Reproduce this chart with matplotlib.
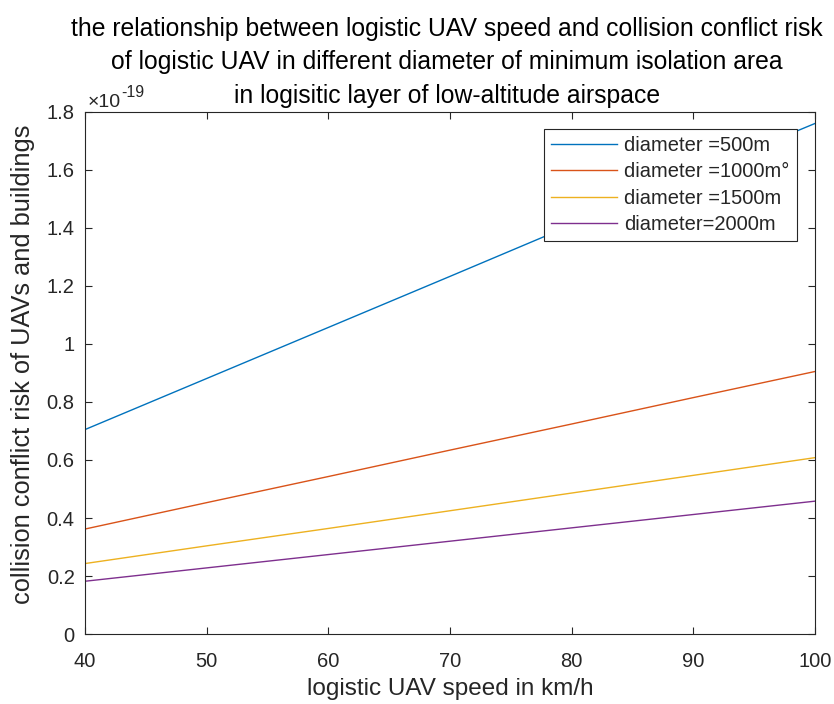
import numpy as np
import matplotlib.pyplot as plt
from matplotlib.ticker import FuncFormatter

# logistic UAV speed (km/h)
speed = [40, 50, 60, 70, 80, 90, 100]

# collision conflict risk, in units of 1e-19
risk_500 = [0.705, 0.881, 1.057, 1.233, 1.410, 1.586, 1.760]
risk_1000 = [0.362, 0.453, 0.543, 0.634, 0.724, 0.815, 0.905]
risk_1500 = [0.243, 0.304, 0.364, 0.425, 0.486, 0.547, 0.608]
risk_2000 = [0.182, 0.228, 0.274, 0.320, 0.366, 0.412, 0.458]

labels = ['diameter =500m', 'diameter =1000m°', 'diameter =1500m', 'diameter=2000m']
colors = ['#0072BD', '#D95319', '#EDB120', '#7E2F8E']

title_lines = ['the relationship between logistic UAV speed and collision conflict risk',
               'of logistic UAV in different diameter of minimum isolation area',
               'in logisitic layer of low-altitude airspace']

plt.rcParams['font.family'] = ['Liberation Sans', 'DejaVu Sans']
TXT = '#262626'

fig, ax = plt.subplots(figsize=(8.34, 7.04), dpi=100)
plt.subplots_adjust(left=0.102, right=0.977, bottom=0.0994, top=0.841)

for vals, lab, c in zip([risk_500, risk_1000, risk_1500, risk_2000], labels, colors):
    ax.plot(speed, vals, color=c, lw=1.0, label=lab)

ax.set_xlim(40, 100)
ax.set_ylim(0, 1.8)
ax.set_xticks(np.arange(40, 101, 10))
ax.set_yticks(np.arange(0, 1.81, 0.2))
ax.yaxis.set_major_formatter(FuncFormatter(lambda v, p: f'{v:g}'))
ax.tick_params(direction='in', length=5, width=0.8, top=True, right=True,
               labelsize=14.5, colors=TXT, labelcolor=TXT)
ax.tick_params(axis='x', pad=13)
ax.tick_params(axis='y', pad=7.5)
for sp in ax.spines.values():
    sp.set_color(TXT)
    sp.set_linewidth(0.8)

ax.set_xlabel('logistic UAV speed in km/h', fontsize=17.5, color=TXT, labelpad=5)
ax.set_ylabel('collision conflict risk of UAVs and buildings', fontsize=18.3, color=TXT)
ax.yaxis.set_label_coords(-0.068, 0.516)

# three-line title, one text per line
for i, line in enumerate(title_lines):
    fig.text(447 / 834, 1 - (36 + 33.5 * i) / 704, line, fontsize=17.8,
             color='black', ha='center', va='baseline')

# exponent of the y axis
ax.text(0.003, 1.009, '×10', transform=ax.transAxes, fontsize=14,
        color=TXT, ha='left', va='baseline')
ax.text(0.049, 1.029, '-19', transform=ax.transAxes, fontsize=11.5,
        color=TXT, ha='left', va='baseline')

leg = ax.legend(loc='upper right', bbox_to_anchor=(0.975, 0.967), fontsize=14.5,
                frameon=True, fancybox=False, framealpha=1, edgecolor=TXT,
                handlelength=3.3, handletextpad=0.35, borderpad=0.35,
                labelspacing=0.36, borderaxespad=0)
leg.get_frame().set_linewidth(0.8)
for t in leg.get_texts():
    t.set_color(TXT)

fig.savefig('out.png', dpi=100)
